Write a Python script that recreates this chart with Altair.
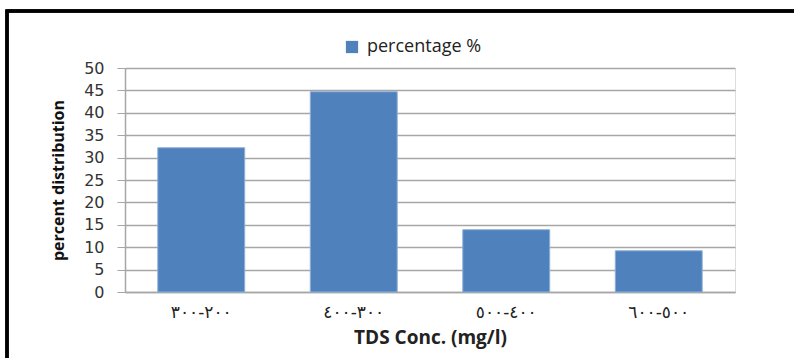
import altair as alt
import pandas as pd

categories = ["٢٠٠-٣٠٠", "٣٠٠-٤٠٠", "٤٠٠-٥٠٠", "٥٠٠-٦٠٠"]
values = [32.2, 44.7, 13.9, 9.2]
series_name = ["percentage %"] * 4

df = pd.DataFrame({"range": categories, "value": values, "series": series_name})

W, H = 610, 224

bars = alt.Chart(df).mark_bar(stroke="#8fb0d8", strokeWidth=1).encode(
    x=alt.X("range:N", sort=categories, scale=alt.Scale(paddingInner=0.43, paddingOuter=0.215),
            axis=alt.Axis(title="TDS Conc. (mg/l)", labelAngle=0, tickSize=0, labelPadding=12,
                          labelFont="DejaVu Sans", labelFontSize=17, labelColor="#222",
                          domainColor="#a6a6a6", domainWidth=1.5,
                          titleFont="Open Sans", titleFontSize=19, titleFontWeight="bold",
                          titleColor="#222", titleX=305, titleY=45, titleBaseline="middle")),
    y=alt.Y("value:Q", scale=alt.Scale(domain=[0, 50]),
            axis=alt.Axis(title="percent  distribution", values=list(range(0, 51, 5)),
                          tickSize=8, tickColor="#a6a6a6", labelPadding=13,
                          labelFont="DejaVu Sans", labelFontSize=16, labelColor="#333",
                          domainColor="#a6a6a6", domainWidth=1.5,
                          gridColor="#a6a6a6", gridWidth=1.5,
                          titleFont="Open Sans", titleFontSize=16, titleFontWeight="bold",
                          titleColor="#111", titleAngle=-90, titleX=-67, titleY=112,
                          titleAlign="center", titleBaseline="middle")),
    color=alt.Color("series:N", scale=alt.Scale(range=["#4f81bd"]),
                    legend=alt.Legend(title=None, orient="none", legendX=218, legendY=-30,
                                      symbolType="square", symbolSize=150, symbolStrokeWidth=0,
                                      labelFont="Open Sans", labelFontSize=18, labelColor="#222",
                                      labelOffset=6)),
)

frame = alt.Chart(df).mark_rect(fill=None, stroke="black", strokeWidth=3, clip=False).encode(
    x=alt.value(-118), x2=alt.value(700), y=alt.value(-57), y2=alt.value(320)
)

chart = alt.layer(bars, frame).properties(
    width=W, height=H,
    autosize=alt.AutoSizeParams(type="none"),
    padding={"left": 125, "top": 68, "right": 59, "bottom": 66},
).configure_view(stroke=None).configure(background="white")

chart.save("out.html", embed_options={"renderer": "svg", "actions": False})
